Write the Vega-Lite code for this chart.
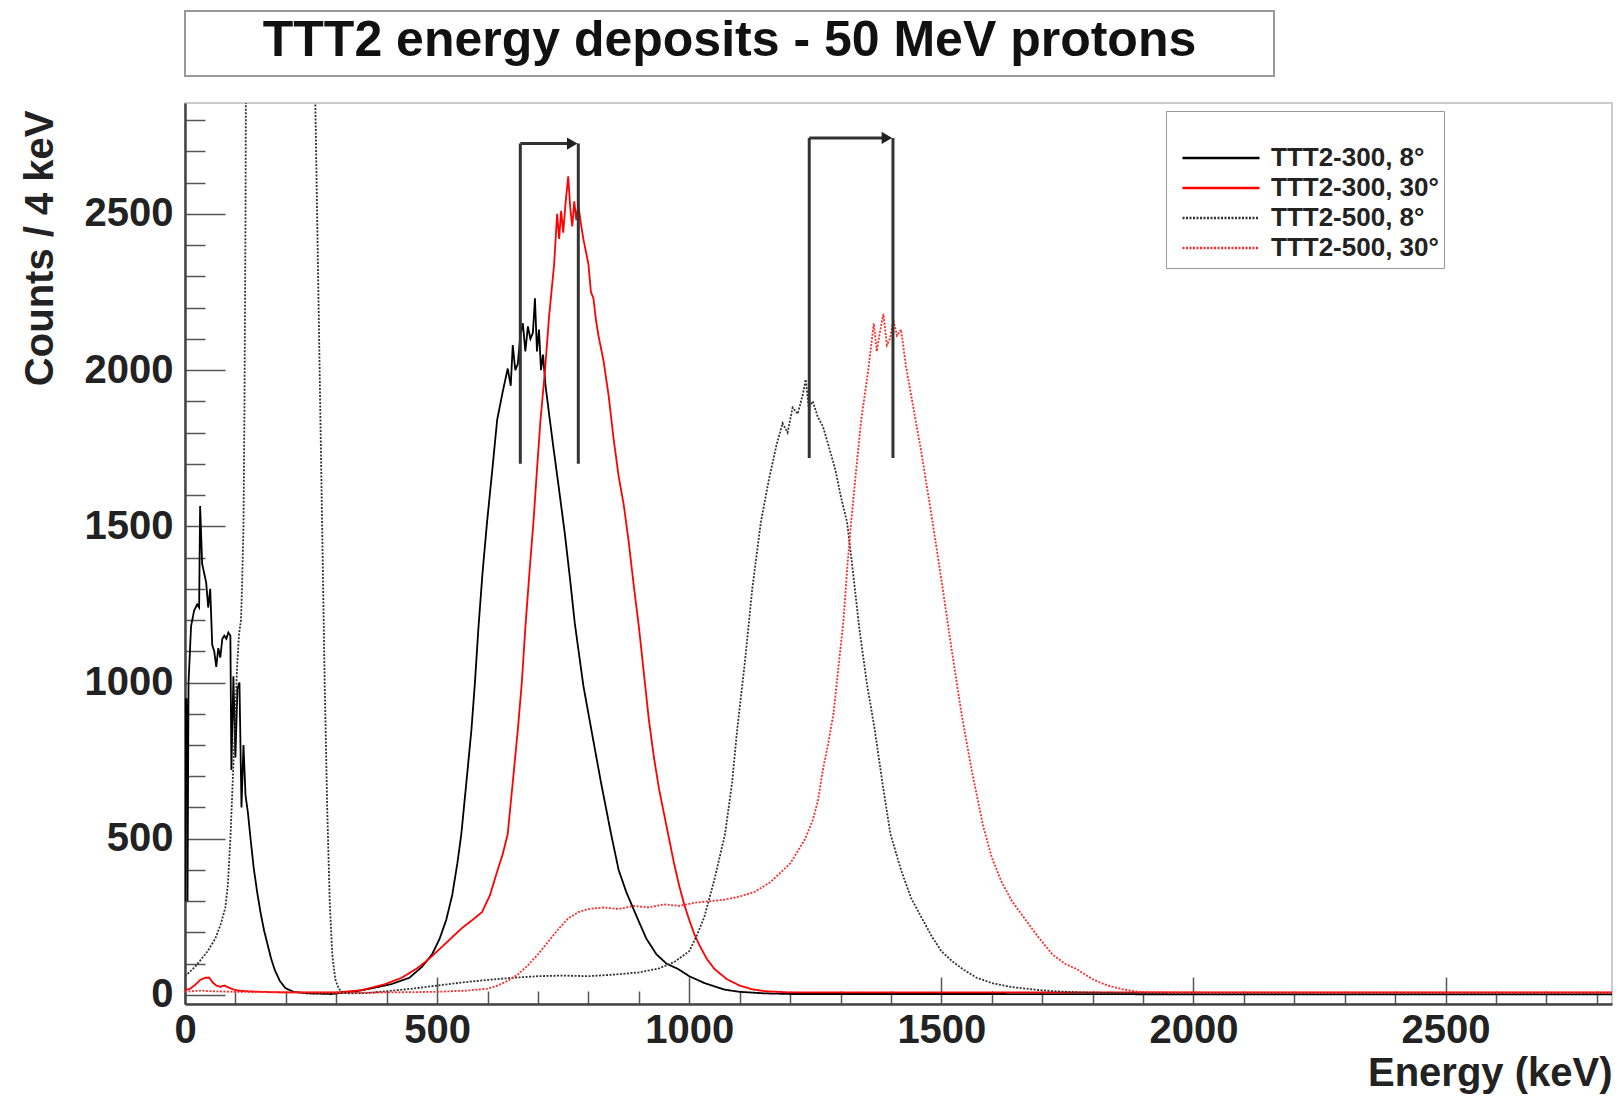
{
"$schema": "https://vega.github.io/schema/vega-lite/v6.json",
"background": "white",
"padding": {"left": 19, "top": 10, "right": 5, "bottom": 0},
"spacing": 22,
"config": {"font": "Liberation Sans", "view": {"stroke": "#bbbbbb", "strokeWidth": 1.5}},
"datasets": {
"arrows": [
{"E":665,"N":1700,"E2":665,"N2":2725},
{"E":780,"N":1700,"E2":780,"N2":2725},
{"E":665,"N":2725,"E2":768,"N2":2725},
{"E":1238,"N":1719,"E2":1238,"N2":2743},
{"E":1404,"N":1719,"E2":1404,"N2":2743},
{"E":1238,"N":2743,"E2":1392,"N2":2743}
],
"heads": [{"E":768,"N":2725},{"E":1392,"N":2743}],
"hist": [
{"series":"TTT2-300, 8°","E":0,"N":300},{"series":"TTT2-300, 8°","E":1,"N":950},{"series":"TTT2-300, 8°","E":2,"N":700},{"series":"TTT2-300, 8°","E":3,"N":950},{"series":"TTT2-300, 8°","E":4,"N":760},{"series":"TTT2-300, 8°","E":5,"N":300},{"series":"TTT2-300, 8°","E":7,"N":1000},{"series":"TTT2-300, 8°","E":12,"N":1180},{"series":"TTT2-300, 8°","E":18,"N":1230},{"series":"TTT2-300, 8°","E":24,"N":1250},{"series":"TTT2-300, 8°","E":28,"N":1240},{"series":"TTT2-300, 8°","E":30,"N":1565},{"series":"TTT2-300, 8°","E":34,"N":1380},{"series":"TTT2-300, 8°","E":38,"N":1350},{"series":"TTT2-300, 8°","E":42,"N":1320},{"series":"TTT2-300, 8°","E":46,"N":1240},{"series":"TTT2-300, 8°","E":50,"N":1300},{"series":"TTT2-300, 8°","E":54,"N":1120},{"series":"TTT2-300, 8°","E":58,"N":1100},{"series":"TTT2-300, 8°","E":62,"N":1050},{"series":"TTT2-300, 8°","E":66,"N":1110},{"series":"TTT2-300, 8°","E":70,"N":1080},{"series":"TTT2-300, 8°","E":74,"N":1140},{"series":"TTT2-300, 8°","E":78,"N":1150},{"series":"TTT2-300, 8°","E":82,"N":1140},{"series":"TTT2-300, 8°","E":86,"N":1160},{"series":"TTT2-300, 8°","E":90,"N":1150},{"series":"TTT2-300, 8°","E":92,"N":720},{"series":"TTT2-300, 8°","E":96,"N":1020},{"series":"TTT2-300, 8°","E":100,"N":760},{"series":"TTT2-300, 8°","E":104,"N":980},{"series":"TTT2-300, 8°","E":108,"N":1000},{"series":"TTT2-300, 8°","E":112,"N":600},{"series":"TTT2-300, 8°","E":116,"N":800},{"series":"TTT2-300, 8°","E":120,"N":640},{"series":"TTT2-300, 8°","E":125,"N":580},{"series":"TTT2-300, 8°","E":130,"N":500},{"series":"TTT2-300, 8°","E":136,"N":410},{"series":"TTT2-300, 8°","E":143,"N":330},{"series":"TTT2-300, 8°","E":150,"N":262},{"series":"TTT2-300, 8°","E":157,"N":205},{"series":"TTT2-300, 8°","E":164,"N":160},{"series":"TTT2-300, 8°","E":171,"N":115},{"series":"TTT2-300, 8°","E":178,"N":80},{"series":"TTT2-300, 8°","E":188,"N":45},{"series":"TTT2-300, 8°","E":199,"N":22},{"series":"TTT2-300, 8°","E":215,"N":10},{"series":"TTT2-300, 8°","E":242,"N":5},{"series":"TTT2-300, 8°","E":290,"N":3},{"series":"TTT2-300, 8°","E":340,"N":12},{"series":"TTT2-300, 8°","E":373,"N":22},{"series":"TTT2-300, 8°","E":410,"N":35},{"series":"TTT2-300, 8°","E":445,"N":55},{"series":"TTT2-300, 8°","E":470,"N":90},{"series":"TTT2-300, 8°","E":490,"N":130},{"series":"TTT2-300, 8°","E":505,"N":180},{"series":"TTT2-300, 8°","E":518,"N":240},{"series":"TTT2-300, 8°","E":530,"N":320},{"series":"TTT2-300, 8°","E":540,"N":420},{"series":"TTT2-300, 8°","E":548,"N":515},{"series":"TTT2-300, 8°","E":558,"N":680},{"series":"TTT2-300, 8°","E":568,"N":848},{"series":"TTT2-300, 8°","E":575,"N":1000},{"series":"TTT2-300, 8°","E":582,"N":1177},{"series":"TTT2-300, 8°","E":590,"N":1350},{"series":"TTT2-300, 8°","E":599,"N":1513},{"series":"TTT2-300, 8°","E":610,"N":1690},{"series":"TTT2-300, 8°","E":619,"N":1840},{"series":"TTT2-300, 8°","E":630,"N":1930},{"series":"TTT2-300, 8°","E":640,"N":2005},{"series":"TTT2-300, 8°","E":646,"N":1950},{"series":"TTT2-300, 8°","E":650,"N":2080},{"series":"TTT2-300, 8°","E":655,"N":2000},{"series":"TTT2-300, 8°","E":660,"N":2020},{"series":"TTT2-300, 8°","E":665,"N":2110},{"series":"TTT2-300, 8°","E":670,"N":2150},{"series":"TTT2-300, 8°","E":675,"N":2060},{"series":"TTT2-300, 8°","E":680,"N":2140},{"series":"TTT2-300, 8°","E":685,"N":2100},{"series":"TTT2-300, 8°","E":690,"N":2120},{"series":"TTT2-300, 8°","E":694,"N":2230},{"series":"TTT2-300, 8°","E":698,"N":2060},{"series":"TTT2-300, 8°","E":702,"N":2130},{"series":"TTT2-300, 8°","E":706,"N":2000},{"series":"TTT2-300, 8°","E":710,"N":2050},{"series":"TTT2-300, 8°","E":715,"N":1950},{"series":"TTT2-300, 8°","E":722,"N":1860},{"series":"TTT2-300, 8°","E":730,"N":1760},{"series":"TTT2-300, 8°","E":740,"N":1640},{"series":"TTT2-300, 8°","E":753,"N":1480},{"series":"TTT2-300, 8°","E":763,"N":1340},{"series":"TTT2-300, 8°","E":773,"N":1190},{"series":"TTT2-300, 8°","E":790,"N":990},{"series":"TTT2-300, 8°","E":808,"N":830},{"series":"TTT2-300, 8°","E":825,"N":680},{"series":"TTT2-300, 8°","E":845,"N":515},{"series":"TTT2-300, 8°","E":860,"N":400},{"series":"TTT2-300, 8°","E":875,"N":330},{"series":"TTT2-300, 8°","E":896,"N":250},{"series":"TTT2-300, 8°","E":915,"N":180},{"series":"TTT2-300, 8°","E":935,"N":130},{"series":"TTT2-300, 8°","E":955,"N":100},{"series":"TTT2-300, 8°","E":978,"N":83},{"series":"TTT2-300, 8°","E":1000,"N":60},{"series":"TTT2-300, 8°","E":1030,"N":38},{"series":"TTT2-300, 8°","E":1070,"N":17},{"series":"TTT2-300, 8°","E":1100,"N":10},{"series":"TTT2-300, 8°","E":1150,"N":5},{"series":"TTT2-300, 8°","E":1200,"N":3},{"series":"TTT2-300, 8°","E":1600,"N":3},{"series":"TTT2-300, 8°","E":2000,"N":2},{"series":"TTT2-300, 8°","E":2830,"N":2},

{"series":"TTT2-300, 30°","E":0,"N":15},{"series":"TTT2-300, 30°","E":10,"N":20},{"series":"TTT2-300, 30°","E":20,"N":32},{"series":"TTT2-300, 30°","E":30,"N":48},{"series":"TTT2-300, 30°","E":40,"N":55},{"series":"TTT2-300, 30°","E":48,"N":55},{"series":"TTT2-300, 30°","E":55,"N":40},{"series":"TTT2-300, 30°","E":62,"N":30},{"series":"TTT2-300, 30°","E":70,"N":26},{"series":"TTT2-300, 30°","E":78,"N":30},{"series":"TTT2-300, 30°","E":86,"N":24},{"series":"TTT2-300, 30°","E":95,"N":18},{"series":"TTT2-300, 30°","E":105,"N":14},{"series":"TTT2-300, 30°","E":120,"N":12},{"series":"TTT2-300, 30°","E":150,"N":10},{"series":"TTT2-300, 30°","E":200,"N":8},{"series":"TTT2-300, 30°","E":300,"N":8},{"series":"TTT2-300, 30°","E":350,"N":15},{"series":"TTT2-300, 30°","E":394,"N":33},{"series":"TTT2-300, 30°","E":430,"N":55},{"series":"TTT2-300, 30°","E":460,"N":85},{"series":"TTT2-300, 30°","E":480,"N":110},{"series":"TTT2-300, 30°","E":507,"N":150},{"series":"TTT2-300, 30°","E":530,"N":185},{"series":"TTT2-300, 30°","E":550,"N":215},{"series":"TTT2-300, 30°","E":570,"N":240},{"series":"TTT2-300, 30°","E":589,"N":265},{"series":"TTT2-300, 30°","E":605,"N":320},{"series":"TTT2-300, 30°","E":620,"N":400},{"series":"TTT2-300, 30°","E":630,"N":450},{"series":"TTT2-300, 30°","E":640,"N":515},{"series":"TTT2-300, 30°","E":650,"N":680},{"series":"TTT2-300, 30°","E":660,"N":848},{"series":"TTT2-300, 30°","E":668,"N":1000},{"series":"TTT2-300, 30°","E":675,"N":1177},{"series":"TTT2-300, 30°","E":683,"N":1350},{"series":"TTT2-300, 30°","E":691,"N":1513},{"series":"TTT2-300, 30°","E":698,"N":1680},{"series":"TTT2-300, 30°","E":705,"N":1840},{"series":"TTT2-300, 30°","E":714,"N":2000},{"series":"TTT2-300, 30°","E":722,"N":2171},{"series":"TTT2-300, 30°","E":732,"N":2337},{"series":"TTT2-300, 30°","E":738,"N":2500},{"series":"TTT2-300, 30°","E":742,"N":2420},{"series":"TTT2-300, 30°","E":746,"N":2510},{"series":"TTT2-300, 30°","E":750,"N":2440},{"series":"TTT2-300, 30°","E":755,"N":2540},{"series":"TTT2-300, 30°","E":760,"N":2620},{"series":"TTT2-300, 30°","E":764,"N":2520},{"series":"TTT2-300, 30°","E":768,"N":2460},{"series":"TTT2-300, 30°","E":772,"N":2540},{"series":"TTT2-300, 30°","E":776,"N":2480},{"series":"TTT2-300, 30°","E":780,"N":2530},{"series":"TTT2-300, 30°","E":785,"N":2470},{"series":"TTT2-300, 30°","E":790,"N":2420},{"series":"TTT2-300, 30°","E":795,"N":2380},{"series":"TTT2-300, 30°","E":800,"N":2340},{"series":"TTT2-300, 30°","E":805,"N":2250},{"series":"TTT2-300, 30°","E":810,"N":2230},{"series":"TTT2-300, 30°","E":815,"N":2160},{"series":"TTT2-300, 30°","E":820,"N":2110},{"series":"TTT2-300, 30°","E":830,"N":2030},{"series":"TTT2-300, 30°","E":840,"N":1920},{"series":"TTT2-300, 30°","E":850,"N":1780},{"series":"TTT2-300, 30°","E":860,"N":1660},{"series":"TTT2-300, 30°","E":870,"N":1570},{"series":"TTT2-300, 30°","E":880,"N":1450},{"series":"TTT2-300, 30°","E":890,"N":1310},{"series":"TTT2-300, 30°","E":900,"N":1180},{"series":"TTT2-300, 30°","E":910,"N":1030},{"series":"TTT2-300, 30°","E":920,"N":880},{"series":"TTT2-300, 30°","E":930,"N":760},{"series":"TTT2-300, 30°","E":940,"N":660},{"series":"TTT2-300, 30°","E":950,"N":580},{"series":"TTT2-300, 30°","E":960,"N":500},{"series":"TTT2-300, 30°","E":970,"N":420},{"series":"TTT2-300, 30°","E":980,"N":350},{"series":"TTT2-300, 30°","E":990,"N":290},{"series":"TTT2-300, 30°","E":1000,"N":240},{"series":"TTT2-300, 30°","E":1010,"N":195},{"series":"TTT2-300, 30°","E":1020,"N":160},{"series":"TTT2-300, 30°","E":1035,"N":115},{"series":"TTT2-300, 30°","E":1050,"N":83},{"series":"TTT2-300, 30°","E":1075,"N":50},{"series":"TTT2-300, 30°","E":1100,"N":30},{"series":"TTT2-300, 30°","E":1125,"N":18},{"series":"TTT2-300, 30°","E":1150,"N":12},{"series":"TTT2-300, 30°","E":1200,"N":8},{"series":"TTT2-300, 30°","E":1600,"N":8},{"series":"TTT2-300, 30°","E":2000,"N":8},{"series":"TTT2-300, 30°","E":2400,"N":8},{"series":"TTT2-300, 30°","E":2830,"N":8},

{"series":"TTT2-500, 8°","E":0,"N":60},{"series":"TTT2-500, 8°","E":10,"N":75},{"series":"TTT2-500, 8°","E":20,"N":90},{"series":"TTT2-500, 8°","E":30,"N":110},{"series":"TTT2-500, 8°","E":44,"N":138},{"series":"TTT2-500, 8°","E":60,"N":180},{"series":"TTT2-500, 8°","E":71,"N":227},{"series":"TTT2-500, 8°","E":80,"N":280},{"series":"TTT2-500, 8°","E":85,"N":352},{"series":"TTT2-500, 8°","E":90,"N":500},{"series":"TTT2-500, 8°","E":95,"N":698},{"series":"TTT2-500, 8°","E":100,"N":900},{"series":"TTT2-500, 8°","E":103,"N":1040},{"series":"TTT2-500, 8°","E":107,"N":1152},{"series":"TTT2-500, 8°","E":111,"N":1200},{"series":"TTT2-500, 8°","E":113,"N":1300},{"series":"TTT2-500, 8°","E":116,"N":1500},{"series":"TTT2-500, 8°","E":118,"N":1900},{"series":"TTT2-500, 8°","E":120,"N":2500},{"series":"TTT2-500, 8°","E":122,"N":3500},{"series":"TTT2-500, 8°","E":126,"N":6000},{"series":"TTT2-500, 8°","E":250,"N":6000},{"series":"TTT2-500, 8°","E":255,"N":3500},{"series":"TTT2-500, 8°","E":258,"N":2900},{"series":"TTT2-500, 8°","E":262,"N":2500},{"series":"TTT2-500, 8°","E":267,"N":2000},{"series":"TTT2-500, 8°","E":272,"N":1500},{"series":"TTT2-500, 8°","E":277,"N":1000},{"series":"TTT2-500, 8°","E":282,"N":600},{"series":"TTT2-500, 8°","E":287,"N":300},{"series":"TTT2-500, 8°","E":292,"N":130},{"series":"TTT2-500, 8°","E":298,"N":50},{"series":"TTT2-500, 8°","E":305,"N":20},{"series":"TTT2-500, 8°","E":312,"N":8},{"series":"TTT2-500, 8°","E":320,"N":5},{"series":"TTT2-500, 8°","E":360,"N":6},{"series":"TTT2-500, 8°","E":400,"N":12},{"series":"TTT2-500, 8°","E":450,"N":20},{"series":"TTT2-500, 8°","E":500,"N":30},{"series":"TTT2-500, 8°","E":550,"N":40},{"series":"TTT2-500, 8°","E":600,"N":48},{"series":"TTT2-500, 8°","E":650,"N":55},{"series":"TTT2-500, 8°","E":700,"N":60},{"series":"TTT2-500, 8°","E":750,"N":62},{"series":"TTT2-500, 8°","E":800,"N":60},{"series":"TTT2-500, 8°","E":850,"N":65},{"series":"TTT2-500, 8°","E":900,"N":72},{"series":"TTT2-500, 8°","E":940,"N":85},{"series":"TTT2-500, 8°","E":970,"N":105},{"series":"TTT2-500, 8°","E":1000,"N":140},{"series":"TTT2-500, 8°","E":1015,"N":190},{"series":"TTT2-500, 8°","E":1030,"N":250},{"series":"TTT2-500, 8°","E":1050,"N":370},{"series":"TTT2-500, 8°","E":1071,"N":515},{"series":"TTT2-500, 8°","E":1085,"N":680},{"series":"TTT2-500, 8°","E":1095,"N":848},{"series":"TTT2-500, 8°","E":1110,"N":1060},{"series":"TTT2-500, 8°","E":1125,"N":1300},{"series":"TTT2-500, 8°","E":1142,"N":1513},{"series":"TTT2-500, 8°","E":1158,"N":1650},{"series":"TTT2-500, 8°","E":1173,"N":1760},{"series":"TTT2-500, 8°","E":1185,"N":1830},{"series":"TTT2-500, 8°","E":1195,"N":1800},{"series":"TTT2-500, 8°","E":1205,"N":1880},{"series":"TTT2-500, 8°","E":1215,"N":1860},{"series":"TTT2-500, 8°","E":1225,"N":1920},{"series":"TTT2-500, 8°","E":1231,"N":1970},{"series":"TTT2-500, 8°","E":1237,"N":1880},{"series":"TTT2-500, 8°","E":1245,"N":1900},{"series":"TTT2-500, 8°","E":1255,"N":1850},{"series":"TTT2-500, 8°","E":1265,"N":1820},{"series":"TTT2-500, 8°","E":1276,"N":1760},{"series":"TTT2-500, 8°","E":1290,"N":1680},{"series":"TTT2-500, 8°","E":1300,"N":1600},{"series":"TTT2-500, 8°","E":1313,"N":1513},{"series":"TTT2-500, 8°","E":1325,"N":1350},{"series":"TTT2-500, 8°","E":1337,"N":1177},{"series":"TTT2-500, 8°","E":1352,"N":1000},{"series":"TTT2-500, 8°","E":1368,"N":848},{"series":"TTT2-500, 8°","E":1383,"N":680},{"series":"TTT2-500, 8°","E":1399,"N":515},{"series":"TTT2-500, 8°","E":1420,"N":400},{"series":"TTT2-500, 8°","E":1440,"N":310},{"series":"TTT2-500, 8°","E":1460,"N":250},{"series":"TTT2-500, 8°","E":1480,"N":190},{"series":"TTT2-500, 8°","E":1500,"N":140},{"series":"TTT2-500, 8°","E":1520,"N":110},{"series":"TTT2-500, 8°","E":1542,"N":83},{"series":"TTT2-500, 8°","E":1570,"N":55},{"series":"TTT2-500, 8°","E":1600,"N":38},{"series":"TTT2-500, 8°","E":1640,"N":25},{"series":"TTT2-500, 8°","E":1686,"N":17},{"series":"TTT2-500, 8°","E":1720,"N":12},{"series":"TTT2-500, 8°","E":1780,"N":8},{"series":"TTT2-500, 8°","E":1850,"N":6},{"series":"TTT2-500, 8°","E":2200,"N":5},{"series":"TTT2-500, 8°","E":2600,"N":5},{"series":"TTT2-500, 8°","E":2830,"N":5},

{"series":"TTT2-500, 30°","E":0,"N":10},{"series":"TTT2-500, 30°","E":30,"N":14},{"series":"TTT2-500, 30°","E":50,"N":12},{"series":"TTT2-500, 30°","E":100,"N":10},{"series":"TTT2-500, 30°","E":200,"N":8},{"series":"TTT2-500, 30°","E":300,"N":7},{"series":"TTT2-500, 30°","E":400,"N":8},{"series":"TTT2-500, 30°","E":500,"N":10},{"series":"TTT2-500, 30°","E":560,"N":14},{"series":"TTT2-500, 30°","E":600,"N":20},{"series":"TTT2-500, 30°","E":620,"N":30},{"series":"TTT2-500, 30°","E":640,"N":45},{"series":"TTT2-500, 30°","E":660,"N":65},{"series":"TTT2-500, 30°","E":680,"N":95},{"series":"TTT2-500, 30°","E":700,"N":130},{"series":"TTT2-500, 30°","E":720,"N":170},{"series":"TTT2-500, 30°","E":740,"N":210},{"series":"TTT2-500, 30°","E":760,"N":245},{"series":"TTT2-500, 30°","E":780,"N":265},{"series":"TTT2-500, 30°","E":800,"N":275},{"series":"TTT2-500, 30°","E":830,"N":280},{"series":"TTT2-500, 30°","E":860,"N":275},{"series":"TTT2-500, 30°","E":890,"N":285},{"series":"TTT2-500, 30°","E":920,"N":280},{"series":"TTT2-500, 30°","E":950,"N":290},{"series":"TTT2-500, 30°","E":980,"N":285},{"series":"TTT2-500, 30°","E":1010,"N":295},{"series":"TTT2-500, 30°","E":1040,"N":300},{"series":"TTT2-500, 30°","E":1070,"N":305},{"series":"TTT2-500, 30°","E":1100,"N":315},{"series":"TTT2-500, 30°","E":1130,"N":330},{"series":"TTT2-500, 30°","E":1160,"N":360},{"series":"TTT2-500, 30°","E":1180,"N":390},{"series":"TTT2-500, 30°","E":1200,"N":420},{"series":"TTT2-500, 30°","E":1215,"N":460},{"series":"TTT2-500, 30°","E":1230,"N":500},{"series":"TTT2-500, 30°","E":1245,"N":560},{"series":"TTT2-500, 30°","E":1255,"N":620},{"series":"TTT2-500, 30°","E":1265,"N":720},{"series":"TTT2-500, 30°","E":1275,"N":800},{"series":"TTT2-500, 30°","E":1286,"N":900},{"series":"TTT2-500, 30°","E":1296,"N":1050},{"series":"TTT2-500, 30°","E":1306,"N":1200},{"series":"TTT2-500, 30°","E":1314,"N":1380},{"series":"TTT2-500, 30°","E":1321,"N":1513},{"series":"TTT2-500, 30°","E":1331,"N":1680},{"series":"TTT2-500, 30°","E":1341,"N":1840},{"series":"TTT2-500, 30°","E":1355,"N":2000},{"series":"TTT2-500, 30°","E":1366,"N":2150},{"series":"TTT2-500, 30°","E":1372,"N":2060},{"series":"TTT2-500, 30°","E":1378,"N":2120},{"series":"TTT2-500, 30°","E":1385,"N":2180},{"series":"TTT2-500, 30°","E":1392,"N":2080},{"series":"TTT2-500, 30°","E":1398,"N":2100},{"series":"TTT2-500, 30°","E":1405,"N":2160},{"series":"TTT2-500, 30°","E":1412,"N":2110},{"series":"TTT2-500, 30°","E":1420,"N":2130},{"series":"TTT2-500, 30°","E":1430,"N":2010},{"series":"TTT2-500, 30°","E":1440,"N":1920},{"series":"TTT2-500, 30°","E":1460,"N":1740},{"series":"TTT2-500, 30°","E":1480,"N":1540},{"series":"TTT2-500, 30°","E":1500,"N":1330},{"series":"TTT2-500, 30°","E":1520,"N":1110},{"series":"TTT2-500, 30°","E":1540,"N":900},{"series":"TTT2-500, 30°","E":1560,"N":720},{"series":"TTT2-500, 30°","E":1583,"N":540},{"series":"TTT2-500, 30°","E":1600,"N":440},{"series":"TTT2-500, 30°","E":1620,"N":360},{"series":"TTT2-500, 30°","E":1640,"N":300},{"series":"TTT2-500, 30°","E":1665,"N":245},{"series":"TTT2-500, 30°","E":1690,"N":190},{"series":"TTT2-500, 30°","E":1720,"N":130},{"series":"TTT2-500, 30°","E":1745,"N":100},{"series":"TTT2-500, 30°","E":1768,"N":83},{"series":"TTT2-500, 30°","E":1800,"N":50},{"series":"TTT2-500, 30°","E":1830,"N":30},{"series":"TTT2-500, 30°","E":1860,"N":18},{"series":"TTT2-500, 30°","E":1891,"N":10},{"series":"TTT2-500, 30°","E":1950,"N":8},{"series":"TTT2-500, 30°","E":2200,"N":7},{"series":"TTT2-500, 30°","E":2600,"N":7},{"series":"TTT2-500, 30°","E":2830,"N":7}
]
},
"vconcat": [
{
"width": 1089, "height": 65,
"view": {"stroke": "#999999", "strokeWidth": 2},
"data": {"values": [{"t": "TTT2 energy deposits - 50 MeV protons"}]},
"mark": {"type": "text", "font": "Liberation Sans", "fontWeight": "bold", "fontSize": 50, "color": "#111111", "baseline": "alphabetic", "dy": 12},
"encoding": {"text": {"field": "t", "type": "nominal"}}
},
{
"width": 1427, "height": 901,
"layer": [
{
"data": {"name": "hist"},
"mark": {"type": "line", "clip": true, "strokeWidth": 1.8, "interpolate": "linear"},
"encoding": {
"x": {"field": "E", "type": "quantitative", "title": "Energy (keV)",
 "scale": {"domain": [0, 2830], "nice": false, "zero": false},
 "axis": {"values": [0,100,200,300,400,500,600,700,800,900,1000,1100,1200,1300,1400,1500,1600,1700,1800,1900,2000,2100,2200,2300,2400,2500,2600,2700,2800],
  "tickCount": 100, "format": "d", "labelExpr": "datum.value % 500 === 0 ? datum.label : ''",
  "tickSize": {"condition": {"test": "datum.value % 500 === 0", "value": -27}, "value": -13},
  "labelPadding": 33, "labelFlush": false, "labelOverlap": false, "grid": false,
  "domainColor": "#444444", "domainWidth": 2.5, "tickColor": "#555555", "tickWidth": 1.5,
  "labelFont": "Liberation Sans", "labelFontWeight": "bold", "labelFontSize": 40, "labelColor": "#222222",
  "titleFont": "Liberation Sans", "titleFontWeight": "bold", "titleFontSize": 40, "titleColor": "#222222",
  "titleX": 1427, "titleY": 81, "titleAlign": "right", "titleBaseline": "alphabetic"}},
"y": {"field": "N", "type": "quantitative", "title": "Counts / 4 keV",
 "scale": {"domain": [-29, 2855], "nice": false, "zero": false},
 "axis": {"values": [0,100,200,300,400,500,600,700,800,900,1000,1100,1200,1300,1400,1500,1600,1700,1800,1900,2000,2100,2200,2300,2400,2500,2600,2700,2800],
  "tickCount": 100, "format": "d", "labelExpr": "datum.value % 500 === 0 ? datum.label : ''",
  "tickSize": {"condition": {"test": "datum.value % 500 === 0", "value": -40}, "value": -20},
  "labelPadding": 52, "labelFlush": false, "labelOverlap": false, "grid": false,
  "domainColor": "#444444", "domainWidth": 2.5, "tickColor": "#555555", "tickWidth": 1.5,
  "labelFont": "Liberation Sans", "labelFontWeight": "bold", "labelFontSize": 40, "labelColor": "#222222",
  "titleFont": "Liberation Sans", "titleFontWeight": "bold", "titleFontSize": 40, "titleColor": "#222222",
  "titleX": -145, "titleY": 7, "titleAngle": -90, "titleAlign": "right", "titleBaseline": "middle"}},
"color": {"field": "series", "type": "nominal", "title": "\u00a0\u00a0\u00a0\u00a0\u00a0\u00a0\u00a0\u00a0\u00a0\u00a0",
 "scale": {"domain": ["TTT2-300, 8°", "TTT2-300, 30°", "TTT2-500, 8°", "TTT2-500, 30°"], "range": ["#000000", "#ff0000", "#333333", "#ff2a2a"]},
 "legend": {"orient": "none", "legendX": 981, "legendY": 100, "padding": 5, "strokeColor": "#999999", "fillColor": "#ffffff", "titleFontSize": 20, "titlePadding": 7, "titleLimit": 2000, "symbolType": "stroke", "symbolSize": 5929, "symbolStrokeWidth": 2.5, "symbolOffset": 10, "labelFont": "Liberation Sans", "labelFontWeight": "bold", "labelFontSize": 26, "labelColor": "#222222", "labelOffset": 10, "labelLimit": 400, "clipHeight": 30, "rowPadding": 0}},
"strokeDash": {"field": "series", "type": "nominal", "title": "\u00a0\u00a0\u00a0\u00a0\u00a0\u00a0\u00a0\u00a0\u00a0\u00a0",
 "scale": {"domain": ["TTT2-300, 8°", "TTT2-300, 30°", "TTT2-500, 8°", "TTT2-500, 30°"], "range": [[1,0],[1,0],[2,1.5],[2,1.5]]},
 "legend": {"orient": "none", "legendX": 981, "legendY": 100, "padding": 5, "strokeColor": "#999999", "fillColor": "#ffffff", "titleFontSize": 20, "titlePadding": 7, "titleLimit": 2000, "symbolType": "stroke", "symbolSize": 5929, "symbolStrokeWidth": 2.5, "symbolOffset": 10, "labelFont": "Liberation Sans", "labelFontWeight": "bold", "labelFontSize": 26, "labelColor": "#222222", "labelOffset": 10, "labelLimit": 400, "clipHeight": 30, "rowPadding": 0}}
}
},
{
"data": {"name": "arrows"},
"mark": {"type": "rule", "color": "#333333", "strokeWidth": 3},
"encoding": {
"x": {"field": "E", "type": "quantitative", "title": "Energy (keV)"},
"y": {"field": "N", "type": "quantitative", "title": "Counts / 4 keV"},
"x2": {"field": "E2"},
"y2": {"field": "N2"}
}
},
{
"data": {"name": "heads"},
"mark": {"type": "point", "shape": "triangle-right", "filled": true, "size": 150, "color": "#222222", "opacity": 1},
"encoding": {
"x": {"field": "E", "type": "quantitative", "title": "Energy (keV)"},
"y": {"field": "N", "type": "quantitative", "title": "Counts / 4 keV"}
}
}
]
}
]
}
